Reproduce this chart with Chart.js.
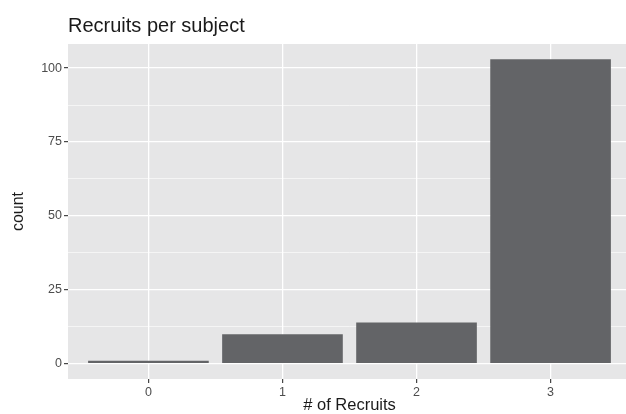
<!DOCTYPE html>
<html>
<head>
<meta charset="utf-8">
<script src="https://cdn.jsdelivr.net/npm/chart.js@4/dist/chart.umd.min.js"></script>
<style>
  html, body { margin: 0; padding: 0; background: #fff; overflow: hidden; }
  #wrap { width: 631px; height: 414px; position: relative; }
</style>
</head>
<body>
<div id="wrap"><canvas id="recruitsChart"></canvas></div>
<script>
// data
const recruits = [0, 1, 2, 3];
const counts = [1, 10, 14, 103];
const yTickLabels = [0, 25, 50, 75, 100];

// minor grid lines sit half way between the labelled ones
const yMinor = yTickLabels.slice(1).map((v, i) => (v + yTickLabels[i]) / 2);

const fontFamily = '"Liberation Sans", Arial, Helvetica, sans-serif';

// grey panel behind the bars (ggplot look)
const panelBg = {
  id: 'panelBg',
  beforeDraw(chart) {
    const a = chart.chartArea;
    const c = chart.ctx;
    c.save();
    c.fillStyle = '#e6e6e7';
    c.fillRect(a.left, a.top, a.right - a.left, a.bottom - a.top);
    c.restore();
  }
};

document.addEventListener("DOMContentLoaded", function () {
  var ctx = document.getElementById("recruitsChart").getContext("2d");

  var chart = new Chart(ctx, {
    type: "bar",
    data: {
      datasets: [{
        label: "count",
        data: recruits.map((r, i) => ({ x: r, y: counts[i] })),
        backgroundColor: "#636467",
        borderWidth: 0,
        categoryPercentage: 1,
        barPercentage: 0.9
      }]
    },
    options: {
      responsive: true,
      maintainAspectRatio: false,
      animation: false,
      layout: { padding: { left: 0, right: 0, top: 0, bottom: 0 } },
      plugins: {
        legend: { display: false },
        tooltip: { enabled: false },
        title: {
          display: true,
          text: "Recruits per subject",
          align: "start",
          fullSize: false,
          color: "#1a1a1a",
          font: { family: fontFamily, size: 20, weight: "normal", lineHeight: 1.2 },
          padding: { top: 14, bottom: 6 }
        }
      },
      scales: {
        x: {
          type: "linear",
          min: -0.6,
          max: 3.6,
          offset: false,
          afterBuildTicks: (s) => { s.ticks = recruits.map(v => ({ value: v })); },
          afterFit: (s) => { s.height = 35; },
          border: { display: false },
          grid: {
            offset: false,
            color: "#ffffff",
            lineWidth: 1.3,
            drawTicks: true,
            tickLength: 4,
            tickColor: "#333333",
            tickWidth: 1.1
          },
          ticks: {
            color: "#4d4d4d",
            padding: 2,
            maxRotation: 0,
            font: { family: fontFamily, size: 12.5 }
          },
          title: {
            display: true,
            text: "# of Recruits",
            color: "#1a1a1a",
            font: { family: fontFamily, size: 16.5, lineHeight: 1 },
            padding: { top: 0, bottom: 0 }
          }
        },
        y: {
          min: -5.15,
          max: 108.15,
          afterBuildTicks: (s) => {
            s.ticks = yTickLabels.concat(yMinor).sort((a, b) => a - b).map(v => ({ value: v }));
          },
          afterFit: (s) => { s.width = 68; },
          border: { display: false },
          grid: {
            color: "#ffffff",
            lineWidth: (c) => yTickLabels.includes(c.tick.value) ? 1.3 : 0.6,
            drawTicks: true,
            tickLength: 4,
            tickColor: (c) => yTickLabels.includes(c.tick.value) ? "#333333" : "rgba(0,0,0,0)",
            tickWidth: 1.1
          },
          ticks: {
            color: "#4d4d4d",
            padding: 2,
            font: { family: fontFamily, size: 12.5 },
            callback: (v) => yTickLabels.includes(v) ? String(v) : ""
          },
          title: {
            display: true,
            text: "count",
            color: "#1a1a1a",
            font: { family: fontFamily, size: 16, lineHeight: 1.2 },
            padding: { top: 9, bottom: 0 }
          }
        }
      }
    },
    plugins: [panelBg]
  });
});
</script>
</body>
</html>
